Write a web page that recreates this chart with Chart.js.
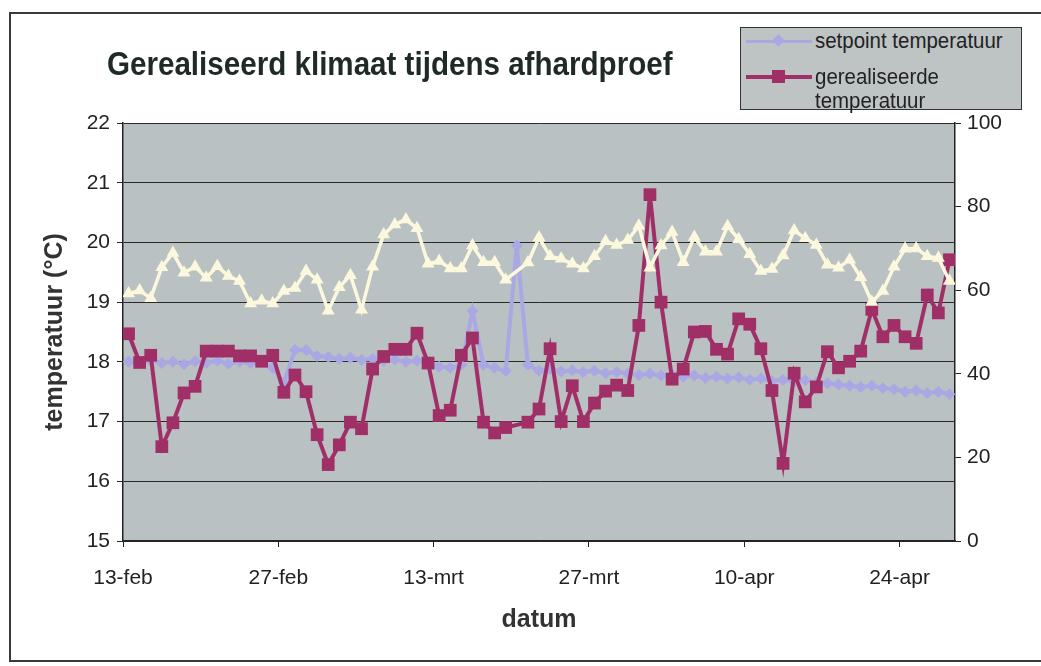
<!DOCTYPE html>
<html>
<head>
<meta charset="utf-8">
<script src="https://cdn.jsdelivr.net/npm/chart.js@4.4.1/dist/chart.umd.min.js"></script>
<style>
  body { margin: 0; background: #fff; width: 1041px; height: 666px; overflow: hidden; position: relative;
         font-family: "Liberation Sans", Arial, sans-serif; }
  #frame { position: absolute; left: 9px; top: 12px; width: 1040px; height: 646px;
           border-left: 2px solid #3a3a3a; border-top: 2px solid #3a3a3a; border-bottom: 2px solid #3a3a3a; }
  #chart { position: absolute; left: 0; top: 0; }
  #title { position: absolute; left: 107px; top: 44px; font-weight: bold; font-size: 34px; color: #1f2a26;
           transform: scaleX(0.87); transform-origin: left top; white-space: nowrap; }
  #legend { position: absolute; left: 740px; top: 27px; width: 282px; height: 83px; box-sizing: border-box;
            background: #bec3c4; border: 1px solid #333; }
  .lg-line { position: absolute; }
  .lg-text { position: absolute; font-size: 22px; color: #222; line-height: 24px; white-space: nowrap;
             transform: scaleX(0.93); transform-origin: left top; }
</style>
</head>
<body>
<div id="frame"></div>
<canvas id="chart" width="1041" height="666"></canvas>
<div id="title">Gerealiseerd klimaat tijdens afhardproef</div>
<div id="legend"></div>
<script>
// one value per day, 13-feb .. 28-apr (75 days); day 35 has no reading
const setpoint = [
    18.00, 17.97, 18.02, 17.98, 18.00, 17.96, 18.01, 17.98, 18.02, 17.97,
    18.00, 17.98, 18.01, 17.90, 17.65, 18.20, 18.20, 18.10, 18.08, 18.05,
    18.07, 18.03, 18.05, 18.02, 18.04, 18.00, 18.02, 17.98, 17.92, 17.90,
    17.95, 18.85, 17.95, 17.90, 17.85, 19.95, 17.95, 17.85, 17.88, 17.84,
    17.86, 17.83, 17.85, 17.81, 17.83, 17.80, 17.78, 17.80, 17.77, 17.79,
    17.75, 17.77, 17.73, 17.75, 17.72, 17.74, 17.70, 17.72, 17.68, 17.70,
    17.67, 17.69, 17.65, 17.64, 17.62, 17.60, 17.58, 17.60, 17.56, 17.54,
    17.50, 17.52, 17.48, 17.50, 17.46
];
const realised = [
    18.47, 17.99, 18.11, 16.58, 16.98, 17.48, 17.59, 18.18, 18.18, 18.18,
    18.10, 18.10, 18.01, 18.11, 17.49, 17.78, 17.50, 16.78, 16.28, 16.61,
    16.99, 16.88, 17.88, 18.09, 18.21, 18.21, 18.48, 17.98, 17.10, 17.19,
    18.11, 18.40, 16.99, 16.81, 16.90, null, 16.99, 17.21, 18.22, 17.00,
    17.60, 17.00, 17.31, 17.51, 17.61, 17.52, 18.61, 20.80, 19.00, 17.71,
    17.88, 18.50, 18.51, 18.21, 18.13, 18.72, 18.63, 18.22, 17.52, 16.30,
    17.81, 17.33, 17.58, 18.17, 17.90, 18.01, 18.18, 18.88, 18.42, 18.61,
    18.42, 18.31, 19.12, 18.82, 19.71
];
// third series on the right axis (not in the legend)
const humidity = [
    59.2, 59.9, 58.1, 65.5, 68.9, 64.2, 65.6, 63.0, 65.7, 63.4,
    62.2, 56.8, 57.5, 56.8, 59.8, 60.5, 64.6, 62.5, 55.1, 60.7,
    63.6, 55.3, 65.6, 73.3, 75.7, 76.9, 74.8, 66.3, 67.0, 65.2,
    65.2, 70.7, 66.7, 66.7, 62.5, null, 66.6, 72.6, 68.1, 67.5,
    66.3, 65.2, 68.1, 71.7, 70.8, 72.0, 75.4, 65.4, 70.7, 73.9,
    66.7, 72.7, 69.2, 69.2, 75.3, 72.2, 68.6, 64.6, 65.1, 68.3,
    74.3, 72.4, 70.8, 66.1, 65.4, 67.3, 63.1, 57.2, 59.8, 65.6,
    69.9, 70.0, 68.1, 67.7, 62.2
];
const tickDays = [0, 14, 28, 42, 56, 70];
const tickLabels = ['13-feb', '27-feb', '13-mrt', '27-mrt', '10-apr', '24-apr'];
const legendNames = ['setpoint temperatuur', 'gerealiseerde temperatuur'];

const colSetpoint = '#aaa8e4';
const colRealised = '#a02f68';
const colHumidity = '#fbf8de';

// points sit in the middle of each day slot
function toPoints(values) {
    return values.map((v, i) => ({ x: i + 0.5, y: v }));
}

const plotBackground = {
    id: 'plotBackground',
    beforeDraw(chart) {
        const { ctx, chartArea: a } = chart;
        ctx.save();
        ctx.fillStyle = '#bac1c2';
        ctx.fillRect(a.left, a.top, a.right - a.left, a.bottom - a.top);
        ctx.restore();
    }
};

Chart.defaults.font.family = '"Liberation Sans", Arial, sans-serif';

new Chart(document.getElementById('chart'), {
    type: 'line',
    data: {
        datasets: [{
            label: legendNames[0],
            data: toPoints(setpoint),
            yAxisID: 'y',
            borderColor: colSetpoint,
            backgroundColor: colSetpoint,
            borderWidth: 4,
            pointStyle: 'rectRot',
            pointRadius: 6,
            pointBorderWidth: 0,
            tension: 0,
            order: 2
        }, {
            label: legendNames[1],
            data: toPoints(realised),
            yAxisID: 'y',
            borderColor: colRealised,
            backgroundColor: colRealised,
            borderWidth: 4,
            pointStyle: 'rect',
            pointRadius: 9,
            pointBorderWidth: 0,
            spanGaps: true,
            tension: 0,
            order: 1
        }, {
            label: 'RV',
            data: toPoints(humidity),
            yAxisID: 'y2',
            borderColor: colHumidity,
            backgroundColor: colHumidity,
            borderWidth: 3.5,
            pointStyle: 'triangle',
            pointRadius: 7.5,
            pointBorderWidth: 0,
            spanGaps: true,
            tension: 0,
            order: 0
        }]
    },
    options: {
        responsive: false,
        animation: false,
        devicePixelRatio: 1,
        layout: { padding: { left: 10, top: 123, right: 10, bottom: 10 } },
        plugins: {
            legend: { display: false },
            tooltip: { enabled: false }
        },
        scales: {
            x: {
                type: 'linear',
                min: 0,
                max: setpoint.length,
                afterBuildTicks: s => { s.ticks = tickDays.map(v => ({ value: v })); },
                afterFit: s => { s.height = 115; },
                ticks: {
                    callback: v => tickLabels[tickDays.indexOf(v)],
                    font: { size: 21 },
                    color: '#222',
                    padding: 19,
                    maxRotation: 0,
                    autoSkip: false
                },
                grid: { drawOnChartArea: false, tickLength: 6, color: '#222' },
                border: { color: '#222', width: 1.5 },
                title: {
                    display: true,
                    text: 'datum',
                    font: { size: 25, weight: 'bold' },
                    color: '#333',
                    padding: { top: 0, bottom: 21 }
                }
            },
            y: {
                position: 'left',
                min: 15,
                max: 22,
                afterFit: s => { s.width = 113; },
                ticks: { stepSize: 1, font: { size: 21 }, color: '#222', padding: 7 },
                grid: { color: '#2a2a2a', lineWidth: 1, tickLength: 6 },
                border: { color: '#222', width: 1.5 },
                title: {
                    display: true,
                    text: 'temperatuur (°C)',
                    font: { size: 25, weight: 'bold' },
                    color: '#333',
                    padding: { top: 30, bottom: 0 }
                }
            },
            y2: {
                position: 'right',
                min: 0,
                max: 100,
                afterFit: s => { s.width = 76; },
                ticks: { stepSize: 20, font: { size: 21 }, color: '#222', padding: 6 },
                grid: { drawOnChartArea: false, tickLength: 6, color: '#222' },
                border: { color: '#222', width: 1.5 }
            }
        }
    },
    plugins: [plotBackground]
});

// legend box in the top right corner (html, so the long name can wrap)
const legend = document.getElementById('legend');
legend.innerHTML =
    '<div class="lg-line" style="left:5px;top:12px;width:66px;height:3px;background:' + colSetpoint + '"></div>' +
    '<div class="lg-line" style="left:33px;top:8px;width:9px;height:9px;transform:rotate(45deg);background:' + colSetpoint + '"></div>' +
    '<div class="lg-text" style="left:74px;top:1px">' + legendNames[0] + '</div>' +
    '<div class="lg-line" style="left:5px;top:47px;width:66px;height:4px;background:' + colRealised + '"></div>' +
    '<div class="lg-line" style="left:31px;top:42px;width:13px;height:13px;background:' + colRealised + '"></div>' +
    '<div class="lg-text" style="left:74px;top:37px">' + legendNames[1].replace(' ', '<br>') + '</div>';
</script>
</body>
</html>
